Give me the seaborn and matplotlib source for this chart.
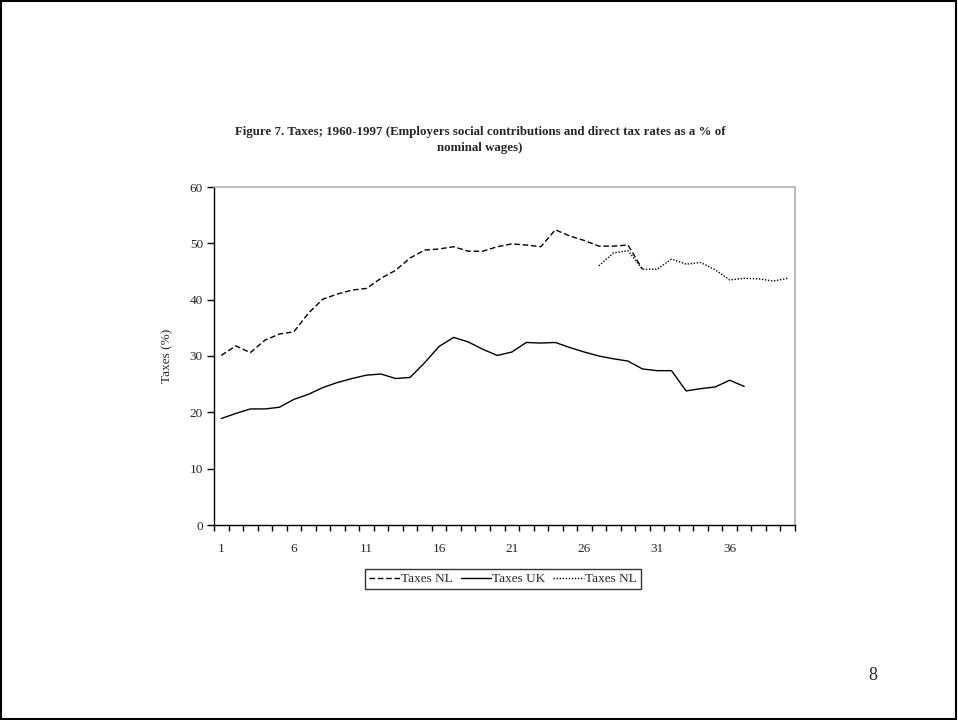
import numpy as np
import pandas as pd
import matplotlib
matplotlib.use("Agg")
import matplotlib.pyplot as plt
from matplotlib.patches import Rectangle
import seaborn as sns

# Series values (category index 1..40)
nl_dash_x = list(range(1, 31))
nl_dash = [30.1, 31.8, 30.6, 32.8, 33.9, 34.3, 37.6, 40.1, 41.0, 41.7,
           42.0, 43.8, 45.2, 47.4, 48.8, 49.0, 49.4, 48.6, 48.6, 49.4,
           49.9, 49.7, 49.4, 52.4, 51.3, 50.5, 49.5, 49.5, 49.7, 45.4]

uk_x = list(range(1, 38))
uk = [18.9, 19.8, 20.6, 20.6, 20.9, 22.3, 23.2, 24.4, 25.3, 26.0,
      26.6, 26.8, 26.0, 26.2, 28.8, 31.7, 33.3, 32.5, 31.2, 30.1,
      30.7, 32.4, 32.3, 32.4, 31.5, 30.7, 30.0, 29.5, 29.1, 27.7,
      27.4, 27.4, 23.8, 24.2, 24.5, 25.7, 24.6]

nl_dot_x = list(range(27, 41))
nl_dot = [46.0, 48.3, 48.7, 45.4, 45.4, 47.2, 46.3, 46.6, 45.3, 43.5,
          43.8, 43.7, 43.3, 43.8]

xtick_labels = [1, 6, 11, 16, 21, 26, 31, 36]
title = ("Figure 7. Taxes; 1960-1997 (Employers social contributions and direct tax rates as a % of\n"
         "nominal wages)")

sns.set_style("white")
plt.rcParams["font.family"] = ["Liberation Serif", "DejaVu Serif"]

df_nl = pd.DataFrame({"x": nl_dash_x, "y": nl_dash})
df_uk = pd.DataFrame({"x": uk_x, "y": uk})
df_dot = pd.DataFrame({"x": nl_dot_x, "y": nl_dot})

fig = plt.figure(figsize=(9.58, 7.2), dpi=100)
ax = fig.add_axes([214 / 958, 1 - 525 / 720, (795 - 214) / 958, (525 - 187) / 720])

sns.lineplot(data=df_nl, x="x", y="y", ax=ax, color="black", lw=1.0,
             label="Taxes NL")
sns.lineplot(data=df_uk, x="x", y="y", ax=ax, color="black", lw=1.0,
             label="Taxes UK")
sns.lineplot(data=df_dot, x="x", y="y", ax=ax, color="black", lw=1.0,
             label="Taxes NL")
lines = ax.get_lines()
lines[0].set_linestyle((0, (4, 2)))
lines[2].set_linestyle((0, (1, 1.2)))

ax.set_xlim(0.5, 40.5)
ax.set_ylim(0, 60)
ax.set_yticks(range(0, 61, 10))
ax.set_xticks(xtick_labels)
ax.set_xticklabels([str(v) for v in xtick_labels])
ax.set_xticks(np.arange(0.5, 41, 1), minor=True)
ax.tick_params(axis="x", which="major", length=0, pad=13, labelsize=9.5)
ax.tick_params(axis="x", which="minor", length=4, width=1, direction="out",
               bottom=True, color="black")
ax.tick_params(axis="y", length=5, width=1, direction="out", left=True,
               pad=3, labelsize=9.5, color="black")
ax.set_xlabel("")
ax.set_ylabel("Taxes (%)", fontsize=9.5, labelpad=12)

for side in ["left", "bottom"]:
    ax.spines[side].set_color("black")
    ax.spines[side].set_linewidth(1)
for side in ["top", "right"]:
    ax.spines[side].set_visible(True)
    ax.spines[side].set_color("#b0b0b0")
    ax.spines[side].set_linewidth(1.2)

ax.get_legend().remove()
handles, labels = ax.get_legend_handles_labels()
leg = fig.legend(handles, labels, loc="center", ncol=3,
                 bbox_to_anchor=(503 / 958, 1 - 579 / 720), fontsize=9.5,
                 frameon=True, fancybox=False, edgecolor="black",
                 handlelength=2.3, handletextpad=0.1, columnspacing=0.6,
                 borderpad=0.3, borderaxespad=0)
leg.get_frame().set_linewidth(1)

fig.text(480 / 958, 1 - 140 / 720, title, ha="center", va="center",
         fontsize=9.3, fontweight="bold", linespacing=1.5)
fig.text(873 / 958, 1 - 675 / 720, "8", ha="center", va="center", fontsize=13)

fig.patches.append(Rectangle((0.001, 0.001), 0.997, 0.997, transform=fig.transFigure,
                             fill=False, edgecolor="black", lw=1.5))

fig.savefig("out.png", dpi=100)
